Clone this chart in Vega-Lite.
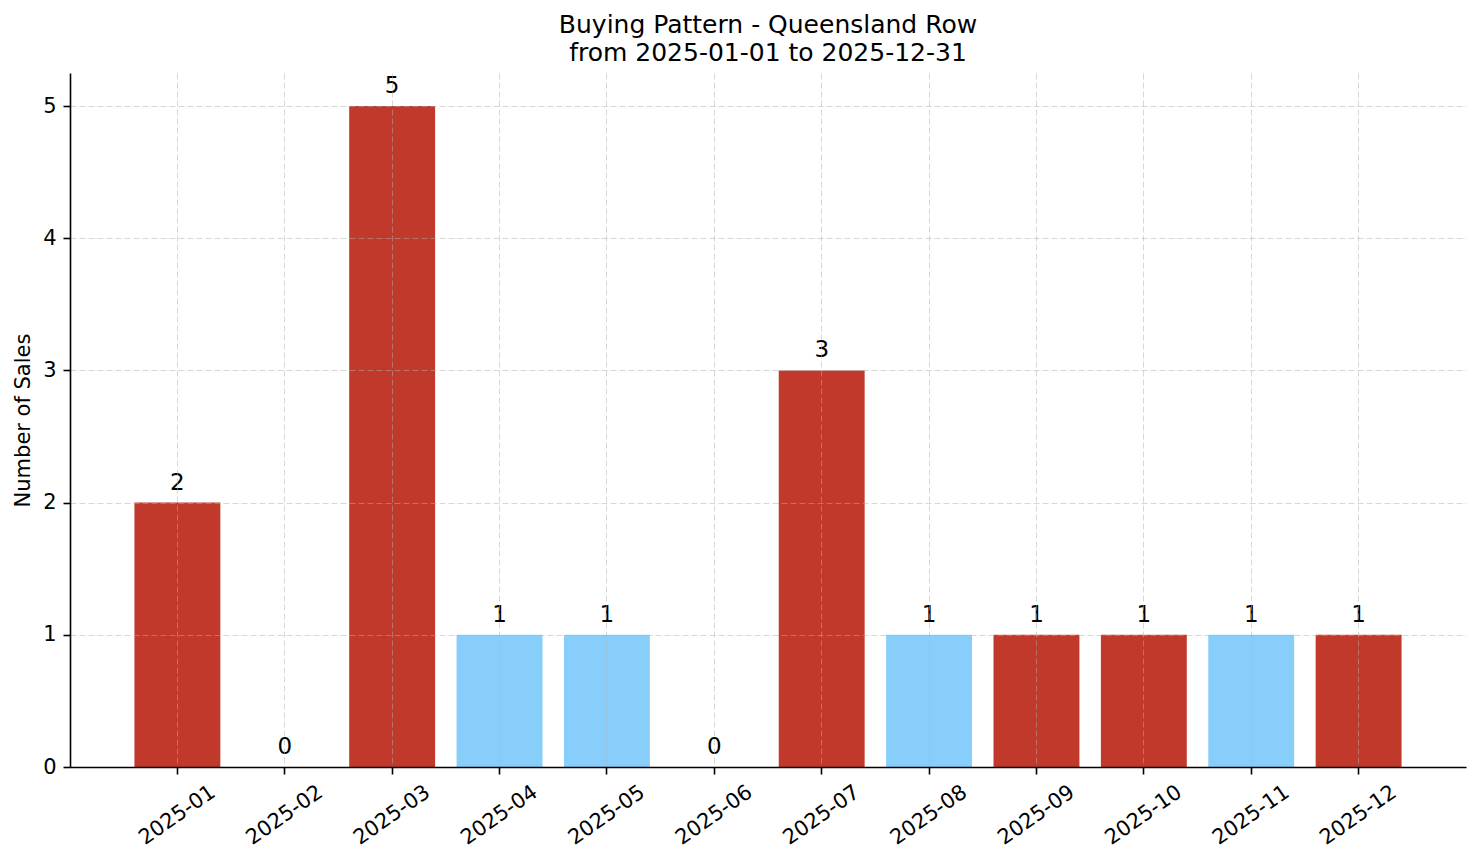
{
  "$schema": "https://vega.github.io/schema/vega-lite/v6.json",
  "description": "Buying pattern bar chart - Queensland Row",
  "autosize": "none",
  "padding": {"left": 70, "top": 73, "right": 15, "bottom": 96},
  "width": 1396,
  "height": 694,
  "background": "white",
  "title": {
    "text": ["Buying Pattern - Queensland Row", "from 2025-01-01 to 2025-12-31"],
    "font": "DejaVu Sans",
    "fontSize": 25,
    "fontWeight": "normal",
    "color": "black",
    "lineHeight": 28,
    "offset": 7,
    "anchor": "middle"
  },
  "data": {
    "values": [
      {"month": "2025-01", "sales": 2, "highlight": "yes"},
      {"month": "2025-02", "sales": 0, "highlight": "no"},
      {"month": "2025-03", "sales": 5, "highlight": "yes"},
      {"month": "2025-04", "sales": 1, "highlight": "no"},
      {"month": "2025-05", "sales": 1, "highlight": "no"},
      {"month": "2025-06", "sales": 0, "highlight": "no"},
      {"month": "2025-07", "sales": 3, "highlight": "yes"},
      {"month": "2025-08", "sales": 1, "highlight": "no"},
      {"month": "2025-09", "sales": 1, "highlight": "yes"},
      {"month": "2025-10", "sales": 1, "highlight": "yes"},
      {"month": "2025-11", "sales": 1, "highlight": "no"},
      {"month": "2025-12", "sales": 1, "highlight": "yes"}
    ]
  },
  "encoding": {
    "x": {
      "field": "month",
      "type": "ordinal",
      "sort": null,
      "scale": {"paddingInner": 0.2, "paddingOuter": 0.6},
      "axis": {
        "title": null,
        "labelAngle": -35,
        "labelAlign": "center",
        "labelBaseline": "middle",
        "labelPadding": 41,
        "tickSize": 7,
        "tickWidth": 1.6,
        "grid": true,
        "zindex": 1
      }
    },
    "y": {
      "field": "sales",
      "type": "quantitative",
      "scale": {"domain": [0, 5.25], "nice": false},
      "axis": {
        "title": "Number of Sales",
        "values": [0, 1, 2, 3, 4, 5],
        "tickSize": 7,
        "tickWidth": 1.6,
        "labelPadding": 7,
        "titlePadding": 9,
        "grid": true,
        "zindex": 1
      }
    }
  },
  "layer": [
    {
      "mark": {"type": "bar"},
      "encoding": {
        "color": {
          "field": "highlight",
          "type": "nominal",
          "scale": {"domain": ["yes", "no"], "range": ["#c0392b", "#87cefa"]},
          "legend": null
        }
      }
    },
    {
      "mark": {
        "type": "text",
        "baseline": "alphabetic",
        "dy": -13,
        "font": "DejaVu Sans",
        "fontSize": 23,
        "color": "black"
      },
      "encoding": {
        "text": {"field": "sales", "type": "quantitative"}
      }
    }
  ],
  "config": {
    "view": {"stroke": null},
    "axis": {
      "labelFont": "DejaVu Sans",
      "labelFontSize": 21,
      "labelColor": "black",
      "titleFont": "DejaVu Sans",
      "titleFontSize": 21,
      "titleFontWeight": "normal",
      "titleColor": "black",
      "domainColor": "black",
      "domainWidth": 1.6,
      "tickColor": "black",
      "gridColor": "#b0b0b0",
      "gridOpacity": 0.5,
      "gridWidth": 1,
      "gridDash": [6, 3]
    }
  }
}
